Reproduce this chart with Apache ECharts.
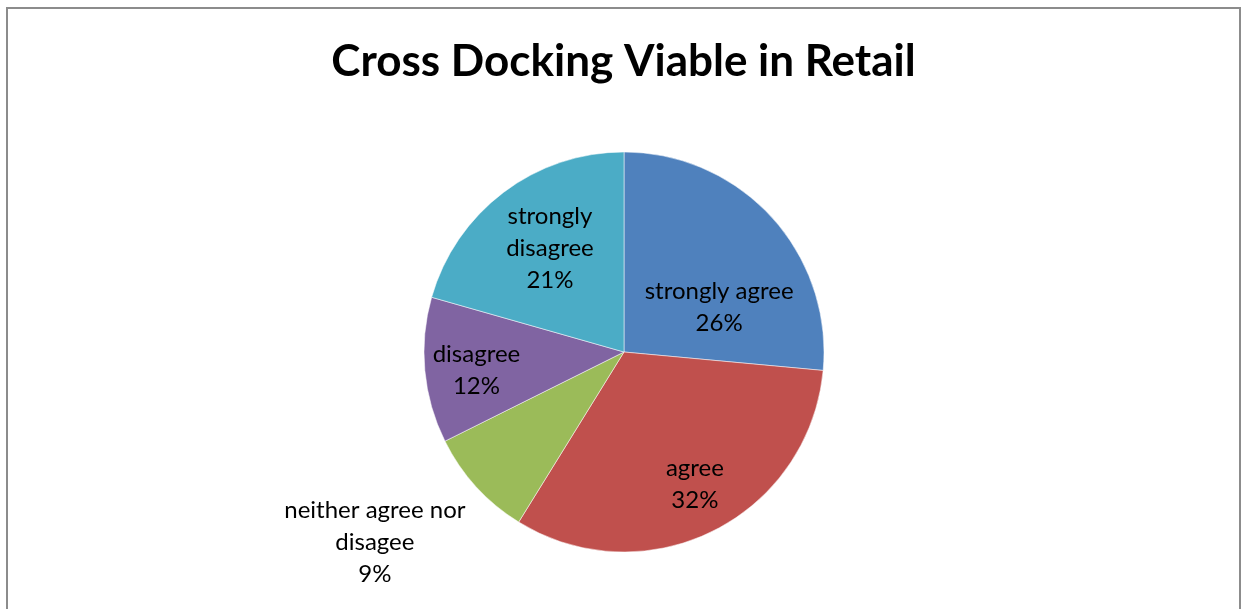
<!DOCTYPE html>
<html>
<head>
<meta charset="utf-8">
<script src="https://cdn.jsdelivr.net/npm/echarts@6/dist/echarts.min.js"></script>
<style>
  html, body { margin: 0; padding: 0; background: #fff; }
  #frame { position: absolute; left: 6px; top: 7px; width: 1231px; height: 640px; border: 2px solid #8c8c8c; }
  #main { position: absolute; left: 0; top: 0; width: 1247px; height: 609px; }
</style>
</head>
<body>
<div id="frame"></div>
<div id="main"></div>
<script>
// chart data (answer counts, labels show share)
var categories = ['strongly agree', 'agree', 'neither agree nor\ndisagee', 'disagree', 'strongly\ndisagree'];
var counts = [9, 11, 3, 4, 7];
var colors = ['#4F81BD', '#C0504D', '#9BBB59', '#8064A2', '#4BACC6'];
// label nudges so they sit where excel put them
var labelShift = [[19, 25], [25, 40], [-173, 121], [-45, 9], [-12, -22]];

var myChart = echarts.init(document.getElementById('main'));

myChart.setOption({
  animation: false,
  title: {
    text: 'Cross Docking Viable in Retail',
    left: 'center',
    top: 35,
    textStyle: {
      fontFamily: 'Lato',
      fontWeight: 'bold',
      fontSize: 44,
      color: '#000'
    }
  },
  series: [
    {
      type: 'pie',
      center: [624, 352],
      radius: [0, 200],
      startAngle: 90,
      clockwise: true,
      itemStyle: {
        borderColor: 'rgba(255,255,255,0.5)',
        borderWidth: 1
      },
      label: {
        show: true,
        position: 'inside',
        fontFamily: 'Lato',
        fontSize: 24,
        lineHeight: 32,
        color: '#000',
        align: 'center',
        formatter: function (p) { return p.name + '\n' + Math.round(p.percent) + '%'; }
      },
      labelLine: { show: false },
      labelLayout: function (p) {
        var s = labelShift[p.dataIndex];
        return { dx: s[0], dy: s[1] };
      },
      data: categories.map(function (c, i) {
        return { name: c, value: counts[i], itemStyle: { color: colors[i] } };
      })
    }
  ]
});
</script>
</body>
</html>
